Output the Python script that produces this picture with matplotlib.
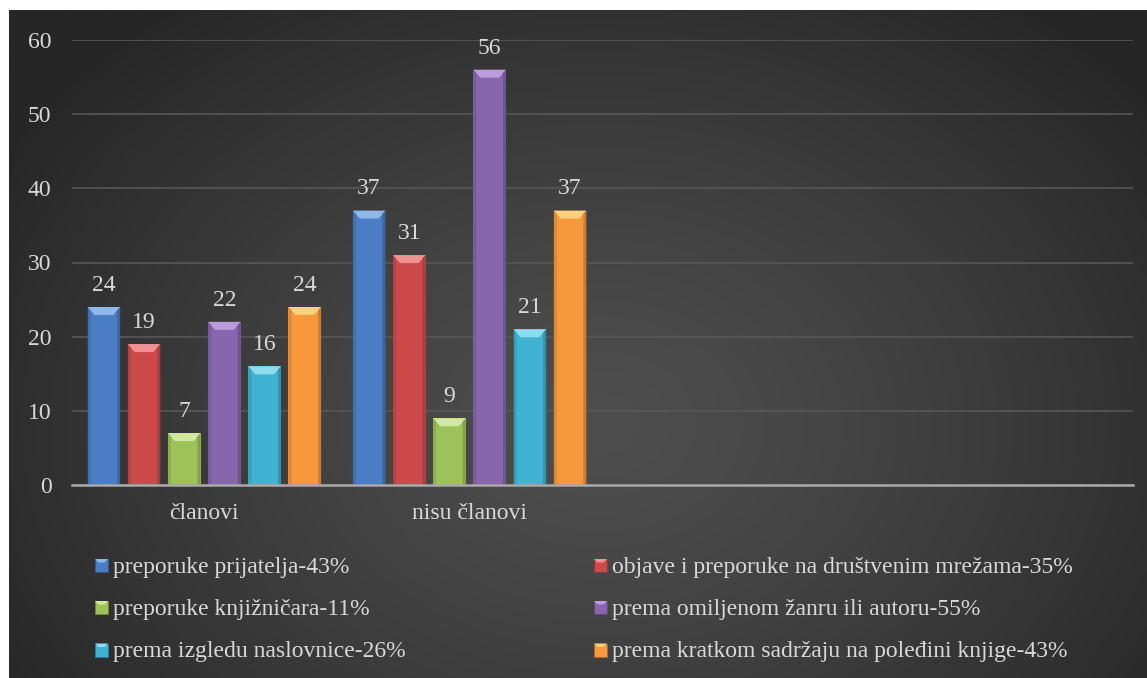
import numpy as np
import matplotlib
matplotlib.use("Agg")
import matplotlib.pyplot as plt
from matplotlib.patches import Polygon, Rectangle
import matplotlib.colors as mcolors

# ---------------- data ----------------
categories = ["članovi", "nisu članovi", "", ""]
series_names = [
    "preporuke prijatelja-43%",
    "objave i preporuke na društvenim mrežama-35%",
    "preporuke knjižničara-11%",
    "prema omiljenom žanru ili autoru-55%",
    "prema izgledu naslovnice-26%",
    "prema kratkom sadržaju na poleđini knjige-43%",
]
v_prijatelji = [24, 37]
v_mreze = [19, 31]
v_knjiznicari = [7, 9]
v_zanr = [22, 56]
v_naslovnica = [16, 21]
v_sadrzaj = [24, 37]
series_values = [v_prijatelji, v_mreze, v_knjiznicari, v_zanr, v_naslovnica, v_sadrzaj]
y_ticks = [0, 10, 20, 30, 40, 50, 60]

colors = ["#4a7dc4", "#cd4a4a", "#9ec25a", "#8766ad", "#40b2d2", "#f7983c"]
tops = ["#8fb8ea", "#f09090", "#d2e89e", "#bb9cdc", "#8fdcf0", "#fdd07c"]

W, H = 1147, 678
FAM = "Liberation Serif"
plt.rcParams['font.family'] = 'serif'
plt.rcParams['font.serif'] = [FAM, 'DejaVu Serif']
FS = 17
TXT = "#d9d9d9"

fig = plt.figure(figsize=(W / 100, H / 100), dpi=100)
fig.patch.set_facecolor("white")

# ---------------- background gradient panel ----------------
bg = fig.add_axes([9 / W, 0, 1 - 9 / W, 1 - 10 / H])
bg.set_axis_off()
ny, nx = 300, 500
yy, xx = np.mgrid[0:1:ny * 1j, 0:1:nx * 1j]
r = np.sqrt(((xx - 0.52) / 0.62) ** 2 + ((yy - 0.62) / 0.80) ** 2)
r = np.clip(r, 0, 1) ** 1.3
c0 = np.array(mcolors.to_rgb("#4e4e4e"))
c1 = np.array(mcolors.to_rgb("#262626"))
img = c0[None, None, :] * (1 - r[..., None]) + c1[None, None, :] * r[..., None]
bg.imshow(img, aspect="auto", extent=[0, 1, 1, 0], interpolation="bilinear")
bg.set_xlim(0, 1)
bg.set_ylim(1, 0)

# ---------------- main axes ----------------
ax_l, ax_r = 71.7 / W, 1132.7 / W
ax_t, ax_b = 1 - 40 / H, 1 - 485 / H
ax = fig.add_axes([ax_l, ax_b, ax_r - ax_l, ax_t - ax_b])
ax.set_facecolor("none")
ncat = len(categories)
ax.set_xlim(-0.5, ncat - 0.5)
ax.set_ylim(0, 60)

axw_px = (ax_r - ax_l) * W
axh_px = (ax_t - ax_b) * H
dx = ncat / axw_px
dy = 60 / axh_px

pitch = 0.1515
bw = 0.123
nser = len(series_values)
xc = np.arange(len(v_prijatelji))
for i, (vals, col, tcol, name) in enumerate(zip(series_values, colors, tops, series_names)):
    offs = (i - (nser - 1) / 2) * pitch
    bars = ax.bar(xc + offs, vals, width=bw, color=col, edgecolor="none",
                  zorder=3, label=name)
    for b, v in zip(bars, vals):
        x0 = b.get_x()
        x1 = x0 + b.get_width()
        top = b.get_height()
        bx = 7 * dx
        by = 8 * dy
        ax.add_patch(Polygon([(x0, top), (x1, top), (x1 - bx, top - by), (x0 + bx, top - by)],
                             closed=True, facecolor=tcol, edgecolor="none", zorder=4))
        sx = 3 * dx
        dark = tuple(np.array(mcolors.to_rgb(col)) * 0.82)
        ax.add_patch(Polygon([(x1, top), (x1 - sx, top - by * 0.4), (x1 - sx, 0), (x1, 0)],
                             closed=True, facecolor=dark, edgecolor="none", zorder=4))
        ax.add_patch(Polygon([(x0, top), (x0 + sx, top - by * 0.4), (x0 + sx, 0), (x0, 0)],
                             closed=True, facecolor=dark, edgecolor="none", zorder=4, alpha=0.6))
        ax.annotate(str(v), (b.get_x() + b.get_width() / 2, top), xytext=(0, 8),
                    textcoords="offset points", ha="center", va="bottom",
                    fontsize=FS, color=TXT, zorder=5, family=FAM)

ax.set_yticks(y_ticks)
ax.set_yticklabels([str(t) for t in y_ticks], family=FAM)
ax.set_xticks(range(ncat))
ax.set_xticklabels(categories, family=FAM)
ax.tick_params(axis="y", length=0, pad=14.5, labelsize=FS, labelcolor=TXT)
ax.tick_params(axis="x", length=0, pad=13, labelsize=FS, labelcolor=TXT)
ax.grid(axis="y", color="#575757", linewidth=1.2, zorder=0)
ax.set_axisbelow(True)
for s in ["top", "right", "left"]:
    ax.spines[s].set_visible(False)
ax.spines["bottom"].set_color("#a9a9a9")
ax.spines["bottom"].set_linewidth(1.8)
ax.spines["bottom"].set_zorder(6)

# ---------------- legend (manual, two columns) ----------------
col_x = [95, 594]
row_y = [565.5, 607.5, 650]
msz = 13
for i, (name, col, tcol) in enumerate(zip(series_names, colors, tops)):
    rrow, ccol = divmod(i, 2)
    mx = col_x[ccol]
    my = row_y[rrow]
    fx0, fx1 = mx / W, (mx + msz) / W
    fy_top, fy_bot = 1 - (my - msz / 2) / H, 1 - (my + msz / 2) / H
    fig.patches.append(Rectangle((fx0, fy_bot), fx1 - fx0, fy_top - fy_bot,
                                 transform=fig.transFigure, facecolor=col,
                                 edgecolor=tuple(np.array(mcolors.to_rgb(col)) * 0.7),
                                 linewidth=0.6, zorder=5))
    b = 3.5
    fig.patches.append(Polygon([(fx0, fy_top), (fx1, fy_top),
                                (fx1 - b / W, fy_top - b / H), (fx0 + b / W, fy_top - b / H)],
                               closed=True, transform=fig.transFigure, facecolor=tcol,
                               edgecolor="none", zorder=6))
    fig.text((mx + msz + 5) / W, 1 - (my + 7) / H, name, fontsize=FS, color=TXT,
             ha="left", va="baseline", family=FAM)

fig.savefig("out.png", dpi=100)
